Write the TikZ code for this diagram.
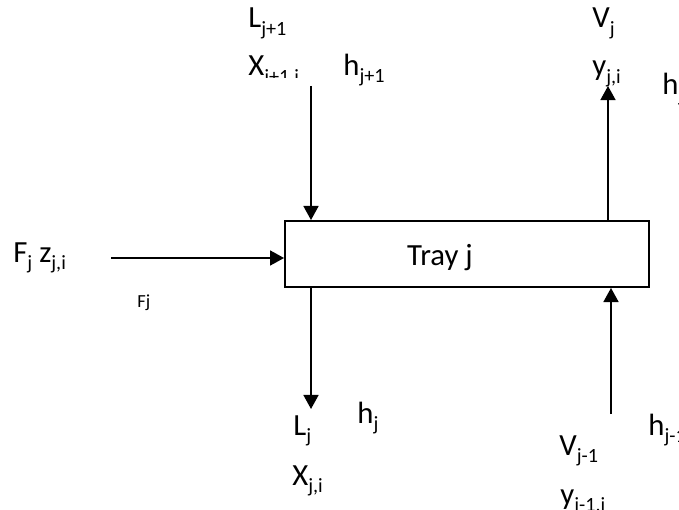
\documentclass[tikz,border=0pt]{standalone}
\usepackage{fontspec}
\setmainfont{Carlito}
\usetikzlibrary{arrows.meta,positioning}
\newcommand{\sub}[1]{\raisebox{-4.5pt}{\fontsize{11.5}{12}\selectfont #1}}

\begin{document}
\begin{tikzpicture}[x=0.02cm,y=-0.02cm,
  txt/.style={inner sep=0pt,anchor=base west,font=\fontsize{17.5}{20}\selectfont},
  small/.style={inner sep=0pt,anchor=base west,font=\fontsize{10.5}{12}\selectfont},
  traybox/.style={draw,line width=1.1pt,minimum width=7.28cm,minimum height=1.32cm,inner sep=0pt},
  flow/.style={line width=1.1pt,-{Triangle[length=8pt,width=8.5pt]}}]
\useasboundingbox (0,0) rectangle (679,510);
\node [traybox] (tray) at (467,254) {};
\node [txt,anchor=base] (traylbl) at (440,265) {Tray j};
% streams in and out
\coordinate (lin) at (311,86);
\coordinate (fin) at (111,258);
\coordinate (vout) at (608,86);
\coordinate (lout) at (311,409);
\coordinate (vin) at (611,414);
\draw [flow] (lin) -- (lin |- tray.north);
\draw [flow] (fin) -- (fin -| tray.west);
\draw [flow] (vout |- tray.north) -- (vout);
\draw [flow] (lout |- tray.south) -- (lout);
\draw [flow] (vin) -- (vin |- tray.south);
% labels
\node [txt] (Ljp) at (248,28) {L\sub{j+1}};
\begin{scope}
\clip (240,40) rectangle (330,78);
\node [txt] (Xjp) at (248,76) {X\sub{j+1,i}};
\end{scope}
\node [txt] (hjp) at (343,75) {h\sub{j+1}};
\node [txt] (Vj) at (592,28) {V\sub{j}};
\node [txt] (yj) at (592,76) {y\sub{j,i}};
\node [txt] (hjt) at (662,94) {h\sub{j}};
\node [txt] (Fz) at (13,262) {F\sub{j} z\sub{j,i}};
\node [small] (Fj) at (137,307) {Fj};
\node [txt] (Lj) at (293,435) {L\sub{j}};
\node [txt] (hjb) at (357,423) {h\sub{j}};
\node [txt] (Xj) at (292,485) {X\sub{j,i}};
\node [txt] (Vjm) at (559,455) {V\sub{j-1}};
\node [txt] (hjm) at (648,435) {h\sub{j-1}};
\node [txt] (yjm) at (560,504) {y\sub{j-1,i}};
\end{tikzpicture}
\end{document}
